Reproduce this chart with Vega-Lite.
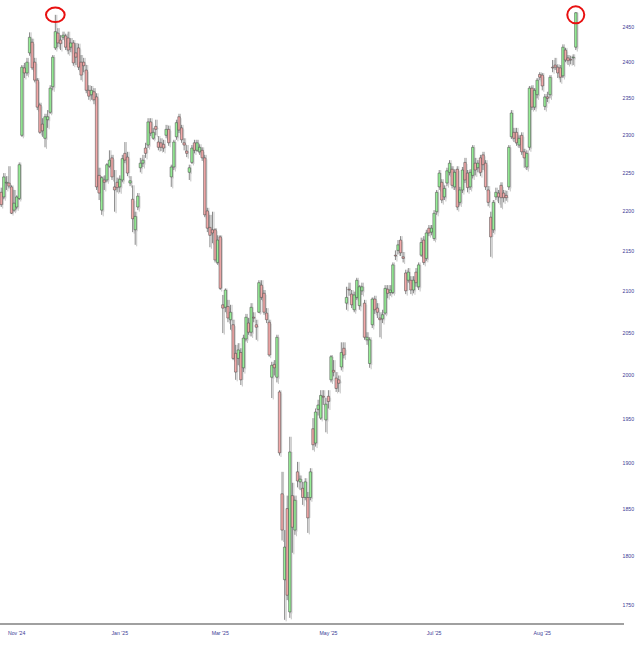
{
"$schema":"https://vega.github.io/schema/vega-lite/v6.json",
"width":624,"height":624,
"autosize":"none",
"padding":{"left":0,"top":0,"right":16,"bottom":24},
"background":"white",
"config":{"view":{"stroke":null},"axis":{"labelFont":"Liberation Sans","labelFontSize":5.2,"labelColor":"#3c3c96"}},
"datasets":{
"ohlc":[
{"d":"2024-10-25","o":2224,"h":2230,"l":2205,"c":2208},
{"d":"2024-10-28","o":2218,"h":2249,"l":2215,"c":2244},
{"d":"2024-10-29","o":2236,"h":2245,"l":2227,"c":2237},
{"d":"2024-10-30","o":2236,"h":2258,"l":2229,"c":2232},
{"d":"2024-10-31","o":2231,"h":2233,"l":2196,"c":2197},
{"d":"2024-11-01","o":2201,"h":2227,"l":2199,"c":2210},
{"d":"2024-11-04","o":2205,"h":2220,"l":2202,"c":2218},
{"d":"2024-11-05","o":2216,"h":2263,"l":2214,"c":2260},
{"d":"2024-11-06","o":2299,"h":2395,"l":2297,"c":2392},
{"d":"2024-11-07","o":2391,"h":2398,"l":2377,"c":2384},
{"d":"2024-11-08","o":2384,"h":2405,"l":2380,"c":2399},
{"d":"2024-11-11","o":2412,"h":2441,"l":2408,"c":2434},
{"d":"2024-11-12","o":2427,"h":2432,"l":2388,"c":2391},
{"d":"2024-11-13","o":2399,"h":2405,"l":2371,"c":2374},
{"d":"2024-11-14","o":2374,"h":2377,"l":2333,"c":2337},
{"d":"2024-11-15","o":2340,"h":2343,"l":2301,"c":2303},
{"d":"2024-11-18","o":2314,"h":2322,"l":2297,"c":2305},
{"d":"2024-11-19","o":2295,"h":2328,"l":2283,"c":2324},
{"d":"2024-11-20","o":2320,"h":2333,"l":2309,"c":2324},
{"d":"2024-11-21","o":2330,"h":2367,"l":2328,"c":2363},
{"d":"2024-11-22","o":2365,"h":2409,"l":2360,"c":2406},
{"d":"2024-11-25","o":2419,"h":2466,"l":2416,"c":2442},
{"d":"2024-11-26","o":2440,"h":2447,"l":2420,"c":2426},
{"d":"2024-11-27","o":2430,"h":2437,"l":2416,"c":2425},
{"d":"2024-11-29","o":2434,"h":2442,"l":2430,"c":2437},
{"d":"2024-12-02","o":2436,"h":2439,"l":2416,"c":2420},
{"d":"2024-12-03","o":2433,"h":2442,"l":2410,"c":2416},
{"d":"2024-12-04","o":2420,"h":2433,"l":2413,"c":2426},
{"d":"2024-12-05","o":2426,"h":2430,"l":2394,"c":2398},
{"d":"2024-12-06","o":2412,"h":2426,"l":2395,"c":2406},
{"d":"2024-12-09","o":2419,"h":2425,"l":2388,"c":2392},
{"d":"2024-12-10","o":2399,"h":2409,"l":2374,"c":2381},
{"d":"2024-12-11","o":2399,"h":2405,"l":2385,"c":2394},
{"d":"2024-12-12","o":2388,"h":2395,"l":2356,"c":2360},
{"d":"2024-12-13","o":2360,"h":2367,"l":2347,"c":2352},
{"d":"2024-12-16","o":2354,"h":2366,"l":2347,"c":2360},
{"d":"2024-12-17","o":2358,"h":2363,"l":2341,"c":2347},
{"d":"2024-12-18","o":2351,"h":2356,"l":2227,"c":2231},
{"d":"2024-12-19","o":2246,"h":2256,"l":2214,"c":2223},
{"d":"2024-12-20","o":2201,"h":2245,"l":2195,"c":2243},
{"d":"2024-12-23","o":2240,"h":2246,"l":2227,"c":2237},
{"d":"2024-12-24","o":2240,"h":2262,"l":2237,"c":2260},
{"d":"2024-12-26","o":2258,"h":2279,"l":2256,"c":2266},
{"d":"2024-12-27","o":2269,"h":2273,"l":2240,"c":2244},
{"d":"2024-12-30","o":2231,"h":2253,"l":2199,"c":2227},
{"d":"2024-12-31","o":2237,"h":2243,"l":2224,"c":2230},
{"d":"2025-01-02","o":2231,"h":2246,"l":2224,"c":2241},
{"d":"2025-01-03","o":2240,"h":2273,"l":2237,"c":2268},
{"d":"2025-01-06","o":2275,"h":2290,"l":2262,"c":2266},
{"d":"2025-01-07","o":2270,"h":2277,"l":2245,"c":2249},
{"d":"2025-01-08","o":2236,"h":2245,"l":2232,"c":2239},
{"d":"2025-01-10","o":2215,"h":2233,"l":2173,"c":2190},
{"d":"2025-01-13","o":2176,"h":2199,"l":2157,"c":2193},
{"d":"2025-01-14","o":2205,"h":2223,"l":2201,"c":2219},
{"d":"2025-01-15","o":2256,"h":2269,"l":2250,"c":2262},
{"d":"2025-01-16","o":2262,"h":2273,"l":2257,"c":2266},
{"d":"2025-01-17","o":2282,"h":2289,"l":2269,"c":2275},
{"d":"2025-01-21","o":2286,"h":2322,"l":2282,"c":2317},
{"d":"2025-01-22","o":2317,"h":2322,"l":2298,"c":2302},
{"d":"2025-01-23","o":2295,"h":2309,"l":2293,"c":2303},
{"d":"2025-01-24","o":2311,"h":2320,"l":2299,"c":2307},
{"d":"2025-01-27","o":2290,"h":2298,"l":2279,"c":2283},
{"d":"2025-01-28","o":2289,"h":2295,"l":2278,"c":2283},
{"d":"2025-01-29","o":2287,"h":2293,"l":2277,"c":2282},
{"d":"2025-01-30","o":2299,"h":2313,"l":2295,"c":2307},
{"d":"2025-01-31","o":2307,"h":2312,"l":2285,"c":2289},
{"d":"2025-02-03","o":2244,"h":2260,"l":2231,"c":2257},
{"d":"2025-02-04","o":2257,"h":2293,"l":2253,"c":2290},
{"d":"2025-02-05","o":2297,"h":2320,"l":2293,"c":2316},
{"d":"2025-02-06","o":2324,"h":2328,"l":2302,"c":2306},
{"d":"2025-02-07","o":2309,"h":2313,"l":2289,"c":2293},
{"d":"2025-02-10","o":2289,"h":2295,"l":2279,"c":2286},
{"d":"2025-02-11","o":2278,"h":2286,"l":2270,"c":2275},
{"d":"2025-02-12","o":2250,"h":2260,"l":2240,"c":2256},
{"d":"2025-02-13","o":2263,"h":2286,"l":2261,"c":2282},
{"d":"2025-02-14","o":2289,"h":2293,"l":2275,"c":2279},
{"d":"2025-02-18","o":2279,"h":2293,"l":2277,"c":2289},
{"d":"2025-02-19","o":2277,"h":2287,"l":2273,"c":2283},
{"d":"2025-02-20","o":2279,"h":2283,"l":2265,"c":2269},
{"d":"2025-02-21","o":2269,"h":2273,"l":2192,"c":2195},
{"d":"2025-02-24","o":2200,"h":2204,"l":2173,"c":2178},
{"d":"2025-02-25","o":2179,"h":2195,"l":2154,"c":2169},
{"d":"2025-02-26","o":2176,"h":2199,"l":2159,"c":2172},
{"d":"2025-02-27","o":2176,"h":2178,"l":2135,"c":2138},
{"d":"2025-02-28","o":2135,"h":2169,"l":2132,"c":2163},
{"d":"2025-03-03","o":2167,"h":2169,"l":2101,"c":2103},
{"d":"2025-03-04","o":2083,"h":2095,"l":2049,"c":2079},
{"d":"2025-03-05","o":2080,"h":2103,"l":2074,"c":2101},
{"d":"2025-03-06","o":2081,"h":2089,"l":2062,"c":2067},
{"d":"2025-03-07","o":2065,"h":2083,"l":2053,"c":2074},
{"d":"2025-03-10","o":2059,"h":2065,"l":2017,"c":2019},
{"d":"2025-03-11","o":2025,"h":2035,"l":1994,"c":2003},
{"d":"2025-03-12","o":2019,"h":2037,"l":2011,"c":2029},
{"d":"2025-03-13","o":2026,"h":2031,"l":1988,"c":1994},
{"d":"2025-03-14","o":2008,"h":2047,"l":2003,"c":2043},
{"d":"2025-03-17","o":2042,"h":2072,"l":2039,"c":2068},
{"d":"2025-03-18","o":2061,"h":2067,"l":2047,"c":2050},
{"d":"2025-03-19","o":2050,"h":2085,"l":2045,"c":2080},
{"d":"2025-03-20","o":2068,"h":2074,"l":2062,"c":2067},
{"d":"2025-03-21","o":2059,"h":2065,"l":2041,"c":2056},
{"d":"2025-03-24","o":2074,"h":2113,"l":2073,"c":2110},
{"d":"2025-03-25","o":2107,"h":2113,"l":2089,"c":2092},
{"d":"2025-03-26","o":2097,"h":2101,"l":2071,"c":2074},
{"d":"2025-03-27","o":2073,"h":2079,"l":2061,"c":2065},
{"d":"2025-03-28","o":2062,"h":2065,"l":2021,"c":2023},
{"d":"2025-03-31","o":1997,"h":2015,"l":1973,"c":2011},
{"d":"2025-04-01","o":2012,"h":2017,"l":1999,"c":2008},
{"d":"2025-04-02","o":1997,"h":2047,"l":1991,"c":2044},
{"d":"2025-04-03","o":1980,"h":1982,"l":1908,"c":1911},
{"d":"2025-04-04","o":1866,"h":1890,"l":1816,"c":1827},
{"d":"2025-04-07","o":1775,"h":1827,"l":1734,"c":1809},
{"d":"2025-04-08","o":1850,"h":1864,"l":1754,"c":1759},
{"d":"2025-04-09","o":1742,"h":1929,"l":1736,"c":1912},
{"d":"2025-04-10","o":1864,"h":1878,"l":1803,"c":1830},
{"d":"2025-04-11","o":1827,"h":1864,"l":1822,"c":1859},
{"d":"2025-04-14","o":1890,"h":1901,"l":1873,"c":1880},
{"d":"2025-04-15","o":1879,"h":1886,"l":1870,"c":1882},
{"d":"2025-04-16","o":1872,"h":1879,"l":1854,"c":1862},
{"d":"2025-04-17","o":1862,"h":1883,"l":1859,"c":1879},
{"d":"2025-04-21","o":1862,"h":1868,"l":1824,"c":1840},
{"d":"2025-04-22","o":1862,"h":1894,"l":1859,"c":1890},
{"d":"2025-04-23","o":1938,"h":1950,"l":1914,"c":1920},
{"d":"2025-04-24","o":1922,"h":1961,"l":1918,"c":1957},
{"d":"2025-04-25","o":1960,"h":1971,"l":1953,"c":1965},
{"d":"2025-04-28","o":1950,"h":1982,"l":1948,"c":1976},
{"d":"2025-04-29","o":1975,"h":1982,"l":1965,"c":1974},
{"d":"2025-04-30","o":1948,"h":1973,"l":1934,"c":1966},
{"d":"2025-05-01","o":1975,"h":1982,"l":1961,"c":1969},
{"d":"2025-05-02","o":1994,"h":2023,"l":1991,"c":2021},
{"d":"2025-05-05","o":2005,"h":2017,"l":1998,"c":2003},
{"d":"2025-05-06","o":1996,"h":2003,"l":1980,"c":1984},
{"d":"2025-05-07","o":1994,"h":1999,"l":1980,"c":1990},
{"d":"2025-05-08","o":2009,"h":2038,"l":2005,"c":2026},
{"d":"2025-05-09","o":2031,"h":2038,"l":2019,"c":2023},
{"d":"2025-05-12","o":2085,"h":2105,"l":2077,"c":2092},
{"d":"2025-05-13","o":2102,"h":2110,"l":2094,"c":2101},
{"d":"2025-05-14","o":2096,"h":2101,"l":2079,"c":2083},
{"d":"2025-05-15","o":2077,"h":2099,"l":2074,"c":2095},
{"d":"2025-05-16","o":2092,"h":2116,"l":2089,"c":2113},
{"d":"2025-05-19","o":2082,"h":2107,"l":2077,"c":2105},
{"d":"2025-05-20","o":2100,"h":2110,"l":2095,"c":2105},
{"d":"2025-05-21","o":2085,"h":2089,"l":2041,"c":2044},
{"d":"2025-05-22","o":2041,"h":2050,"l":2035,"c":2044},
{"d":"2025-05-23","o":2013,"h":2044,"l":2008,"c":2041},
{"d":"2025-05-27","o":2059,"h":2092,"l":2055,"c":2090},
{"d":"2025-05-28","o":2090,"h":2094,"l":2072,"c":2077},
{"d":"2025-05-29","o":2079,"h":2085,"l":2067,"c":2074},
{"d":"2025-05-30","o":2067,"h":2074,"l":2044,"c":2065},
{"d":"2025-06-02","o":2066,"h":2077,"l":2061,"c":2071},
{"d":"2025-06-03","o":2073,"h":2107,"l":2071,"c":2103},
{"d":"2025-06-04","o":2102,"h":2107,"l":2091,"c":2097},
{"d":"2025-06-05","o":2098,"h":2107,"l":2094,"c":2101},
{"d":"2025-06-06","o":2098,"h":2135,"l":2096,"c":2132},
{"d":"2025-06-09","o":2144,"h":2150,"l":2138,"c":2143},
{"d":"2025-06-10","o":2150,"h":2163,"l":2145,"c":2157},
{"d":"2025-06-11","o":2163,"h":2168,"l":2143,"c":2147},
{"d":"2025-06-12","o":2142,"h":2148,"l":2135,"c":2140},
{"d":"2025-06-13","o":2122,"h":2126,"l":2096,"c":2100},
{"d":"2025-06-16","o":2113,"h":2128,"l":2110,"c":2123},
{"d":"2025-06-17","o":2113,"h":2118,"l":2096,"c":2101},
{"d":"2025-06-18","o":2101,"h":2118,"l":2097,"c":2113},
{"d":"2025-06-20","o":2123,"h":2128,"l":2105,"c":2110},
{"d":"2025-06-23","o":2105,"h":2135,"l":2101,"c":2132},
{"d":"2025-06-24","o":2144,"h":2166,"l":2142,"c":2160},
{"d":"2025-06-25","o":2163,"h":2168,"l":2132,"c":2135},
{"d":"2025-06-26","o":2140,"h":2176,"l":2137,"c":2172},
{"d":"2025-06-27","o":2178,"h":2182,"l":2168,"c":2172},
{"d":"2025-06-30","o":2173,"h":2182,"l":2169,"c":2178},
{"d":"2025-07-01","o":2165,"h":2201,"l":2162,"c":2197},
{"d":"2025-07-02","o":2199,"h":2227,"l":2195,"c":2224},
{"d":"2025-07-03","o":2231,"h":2253,"l":2227,"c":2249},
{"d":"2025-07-07","o":2237,"h":2241,"l":2210,"c":2214},
{"d":"2025-07-08","o":2218,"h":2233,"l":2214,"c":2229},
{"d":"2025-07-09","o":2236,"h":2256,"l":2232,"c":2252},
{"d":"2025-07-10","o":2250,"h":2266,"l":2246,"c":2262},
{"d":"2025-07-11","o":2254,"h":2258,"l":2229,"c":2233},
{"d":"2025-07-14","o":2231,"h":2254,"l":2227,"c":2250},
{"d":"2025-07-15","o":2254,"h":2258,"l":2201,"c":2205},
{"d":"2025-07-16","o":2211,"h":2231,"l":2207,"c":2227},
{"d":"2025-07-17","o":2227,"h":2257,"l":2223,"c":2253},
{"d":"2025-07-18","o":2263,"h":2269,"l":2236,"c":2240},
{"d":"2025-07-21","o":2249,"h":2253,"l":2224,"c":2230},
{"d":"2025-07-22","o":2231,"h":2254,"l":2227,"c":2250},
{"d":"2025-07-23","o":2246,"h":2286,"l":2242,"c":2283},
{"d":"2025-07-24","o":2262,"h":2269,"l":2246,"c":2253},
{"d":"2025-07-25","o":2256,"h":2266,"l":2250,"c":2262},
{"d":"2025-07-28","o":2269,"h":2273,"l":2245,"c":2250},
{"d":"2025-07-29","o":2273,"h":2277,"l":2253,"c":2260},
{"d":"2025-07-30","o":2262,"h":2266,"l":2227,"c":2231},
{"d":"2025-07-31","o":2227,"h":2232,"l":2206,"c":2211},
{"d":"2025-08-01","o":2192,"h":2199,"l":2142,"c":2167},
{"d":"2025-08-04","o":2176,"h":2214,"l":2172,"c":2211},
{"d":"2025-08-05","o":2218,"h":2230,"l":2214,"c":2224},
{"d":"2025-08-06","o":2223,"h":2227,"l":2210,"c":2218},
{"d":"2025-08-07","o":2233,"h":2237,"l":2204,"c":2217},
{"d":"2025-08-08","o":2223,"h":2227,"l":2211,"c":2217},
{"d":"2025-08-11","o":2220,"h":2226,"l":2213,"c":2217},
{"d":"2025-08-12","o":2231,"h":2286,"l":2227,"c":2283},
{"d":"2025-08-13","o":2297,"h":2333,"l":2294,"c":2329},
{"d":"2025-08-14","o":2303,"h":2309,"l":2290,"c":2295},
{"d":"2025-08-15","o":2303,"h":2309,"l":2285,"c":2289},
{"d":"2025-08-18","o":2286,"h":2299,"l":2282,"c":2295},
{"d":"2025-08-19","o":2299,"h":2303,"l":2273,"c":2277},
{"d":"2025-08-20","o":2277,"h":2281,"l":2256,"c":2269},
{"d":"2025-08-21","o":2257,"h":2279,"l":2253,"c":2275},
{"d":"2025-08-22","o":2283,"h":2366,"l":2279,"c":2363},
{"d":"2025-08-25","o":2363,"h":2367,"l":2333,"c":2337},
{"d":"2025-08-26","o":2337,"h":2363,"l":2333,"c":2360},
{"d":"2025-08-27","o":2354,"h":2377,"l":2349,"c":2374},
{"d":"2025-08-28","o":2382,"h":2385,"l":2374,"c":2378},
{"d":"2025-08-29","o":2381,"h":2384,"l":2360,"c":2366},
{"d":"2025-09-02","o":2338,"h":2355,"l":2333,"c":2351},
{"d":"2025-09-03","o":2351,"h":2358,"l":2344,"c":2349},
{"d":"2025-09-04","o":2354,"h":2381,"l":2349,"c":2378},
{"d":"2025-09-05","o":2392,"h":2402,"l":2385,"c":2391},
{"d":"2025-09-08","o":2395,"h":2405,"l":2388,"c":2392},
{"d":"2025-09-09","o":2392,"h":2396,"l":2377,"c":2384},
{"d":"2025-09-10","o":2391,"h":2395,"l":2371,"c":2378},
{"d":"2025-09-11","o":2380,"h":2424,"l":2377,"c":2420},
{"d":"2025-09-12","o":2416,"h":2419,"l":2399,"c":2402},
{"d":"2025-09-15","o":2405,"h":2409,"l":2395,"c":2401},
{"d":"2025-09-16","o":2403,"h":2408,"l":2396,"c":2402},
{"d":"2025-09-17","o":2405,"h":2410,"l":2395,"c":2406},
{"d":"2025-09-18","o":2420,"h":2470,"l":2416,"c":2469}
],
"hl":[{"d":"2024-11-25","p":2466},{"d":"2025-09-18","p":2466}],
"base":[{"p":1729.8}]
},
"layer":[
 {"data":{"name":"ohlc"},"mark":{"type":"rule","color":"#c4c4c4","strokeWidth":1,"xOffset":1.5,"yOffset":1.5},
  "encoding":{
   "x":{"field":"d","type":"ordinal","scale":{"range":[0,577],"paddingInner":0.25,"paddingOuter":0.1,"round":false},
    "axis":{"values":["2024-11-04","2025-01-02","2025-03-03","2025-05-01","2025-07-01","2025-08-29"],"labelExpr":"utcFormat(toDate(datum.value), \"%b '%y\")","ticks":false,"grid":false,"title":null,"labelAngle":0,"labelPadding":6,"domain":false}},
   "y":{"field":"l","type":"quantitative","scale":{"type":"log","domain":[1729.8,2487.4],"nice":false,"zero":false},
   "axis":{"orient":"right","values":[1750,1800,1850,1900,1950,2000,2050,2100,2150,2200,2250,2300,2350,2400,2450],"format":"d","ticks":false,"tickSize":0,"domain":false,"grid":false,"title":null,"labelPadding":-2}},"y2":{"field":"h"}}},
 {"data":{"name":"ohlc"},"mark":{"type":"bar","size":2.4,"color":"#c8c8c8","opacity":0.7,"xOffset":1.5,"yOffset":1.5},
  "encoding":{"x":{"field":"d","type":"ordinal"},"y":{"field":"o","type":"quantitative"},"y2":{"field":"c"}}},
 {"data":{"name":"ohlc"},"mark":{"type":"rule","color":"#555555","strokeWidth":0.7},
  "encoding":{"x":{"field":"d","type":"ordinal"},"y":{"field":"l","type":"quantitative"},"y2":{"field":"h"}}},
 {"data":{"name":"ohlc"},"mark":{"type":"bar","size":2.4,"stroke":"#444444","strokeWidth":0.5},
  "encoding":{"x":{"field":"d","type":"ordinal"},"y":{"field":"o","type":"quantitative"},"y2":{"field":"c"},
   "color":{"condition":{"test":"datum.c >= datum.o","value":"#96ee96"},"value":"#f2a8a8"}}},
 {"data":{"name":"base"},"mark":{"type":"rule","color":"#808080","strokeWidth":1.5},
  "encoding":{"y":{"field":"p","type":"quantitative"}}},
 {"data":{"name":"hl"},"transform":[{"filter":"datum.d == '2024-11-25'"}],
  "mark":{"type":"point","shape":"M-1.1,0A1.1,0.85,0,1,0,1.1,0A1.1,0.85,0,1,0,-1.1,0Z","filled":false,"stroke":"#e81010","strokeWidth":2,"size":289,"opacity":1},
  "encoding":{"x":{"field":"d","type":"ordinal"},"y":{"field":"p","type":"quantitative"}}},
 {"data":{"name":"hl"},"transform":[{"filter":"datum.d == '2025-09-18'"}],
  "mark":{"type":"point","shape":"circle","filled":false,"stroke":"#e81010","strokeWidth":2,"size":289,"opacity":1},
  "encoding":{"x":{"field":"d","type":"ordinal"},"y":{"field":"p","type":"quantitative"}}}
]
}
